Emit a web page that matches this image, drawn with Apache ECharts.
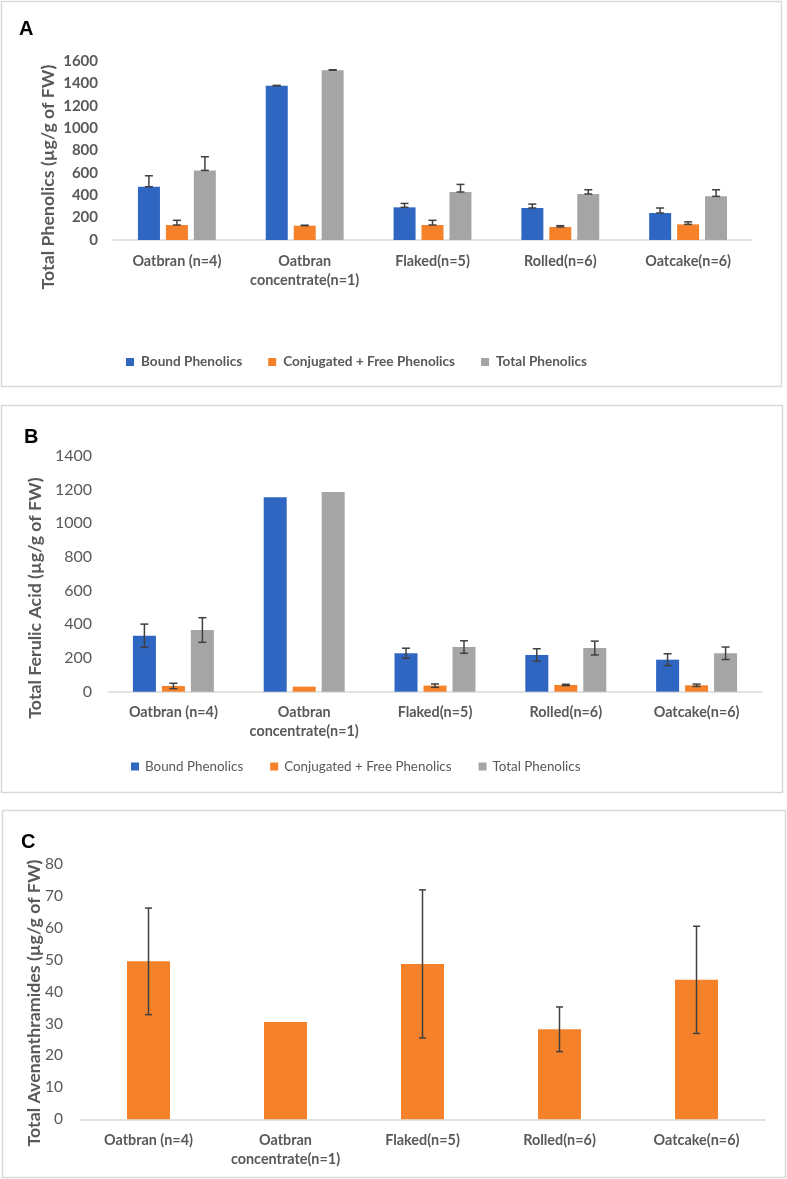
<!DOCTYPE html>
<html><head><meta charset="utf-8">
<script src="https://cdn.jsdelivr.net/npm/echarts@6/dist/echarts.min.js"></script>
<style>html,body{margin:0;padding:0;background:#fff}#c{width:787px;height:1179px}</style>
</head><body><div id="c"></div>
<script>
// ---------- data ----------
const categories = ['Oatbran (n=4)', 'Oatbran\nconcentrate(n=1)', 'Flaked(n=5)', 'Rolled(n=6)', 'Oatcake(n=6)'];
const seriesNames = ['Bound Phenolics', 'Conjugated + Free Phenolics', 'Total Phenolics'];

// Panel A: Total phenolics (µg/g of FW)
const boundA = [476, 1378, 292, 286, 241];
const boundErrA = [98, 4, 35, 35, 45];
const conjA = [134, 128, 134, 116, 140];
const conjErrA = [42, 4, 42, 12, 22];
const totalA = [622, 1518, 429, 411, 390];
const totalErrA = [122, 4, 68, 38, 59];

// Panel B: Total ferulic acid (µg/g of FW)
const boundB = [332, 1153, 228, 218, 190];
const boundErrB = [69, 0, 30, 37, 35];
const conjB = [34, 30, 36, 40, 38];
const conjErrB = [16, 0, 10, 4, 7];
const totalB = [366, 1184, 265, 259, 228];
const totalErrB = [73, 0, 37, 41, 37];

// Panel C: Total avenanthramides (µg/g of FW)
const avenC = [49.5, 30.5, 48.7, 28.2, 43.7];
const avenErrC = [16.7, 0, 23.2, 7, 16.8];

const yTicksA = {min: 0, max: 1600, interval: 200};
const yTicksB = {min: 0, max: 1400, interval: 200};
const yTicksC = {min: 0, max: 80, interval: 10};

// ---------- style ----------
const COLORS = ['#2f66c2', '#f5822a', '#a5a5a5'];
const FONT = 'Lato';
const TXT = '#595959';
const ERR = '#404040';

const chart = echarts.init(document.getElementById('c'), null, {renderer: 'canvas'});

function errSeries(values, errs, axisIdx, offset, plusOnly, capHalf, name) {
  const data = values.map((v, i) => [i, plusOnly ? v : v - errs[i], v + errs[i], errs[i]]);
  return {
    type: 'custom', name: name + ' err', xAxisIndex: axisIdx, yAxisIndex: axisIdx, z: 10,
    silent: true, tooltip: {show: false},
    renderItem: function (params, api) {
      const e = api.value(3);
      if (!e) return null;
      const lo = api.coord([api.value(0), api.value(1)]);
      const hi = api.coord([api.value(0), api.value(2)]);
      const x = lo[0] + offset;
      const st = {stroke: ERR, lineWidth: 1.5};
      return {type: 'group', children: [
        {type: 'line', shape: {x1: x, y1: lo[1], x2: x, y2: hi[1]}, style: st},
        {type: 'line', shape: {x1: x - capHalf, y1: hi[1], x2: x + capHalf, y2: hi[1]}, style: st},
        {type: 'line', shape: {x1: x - capHalf, y1: lo[1], x2: x + capHalf, y2: lo[1]}, style: st}
      ]};
    },
    data: data
  };
}

function barSeries(name, values, axisIdx, color, width, gap) {
  return {type: 'bar', name: name, xAxisIndex: axisIdx, yAxisIndex: axisIdx, data: values,
    barWidth: width, barGap: gap, itemStyle: {color: color}, emphasis: {disabled: true}};
}

const grids = [
  {left: 113, right: 35, top: 61, height: 179},
  {left: 108, right: 25, top: 455.7, height: 236},
  {left: 80, right: 22, top: 864, height: 255.3}
];

function xAx(gi, margin, lh) {
  return {type: 'category', gridIndex: gi, data: categories,
    axisLine: {lineStyle: {color: '#d9d9d9', width: 1.5}}, axisTick: {show: false},
    axisLabel: {color: TXT, fontFamily: FONT, fontSize: 14.4, fontWeight: 'bold', margin: margin, lineHeight: lh, interval: 0}};
}
function yAx(gi, t, bold, size, margin) {
  return {type: 'value', gridIndex: gi, min: t.min, max: t.max, interval: t.interval,
    splitLine: {show: false}, axisLine: {show: false}, axisTick: {show: false},
    axisLabel: {color: TXT, fontFamily: FONT, fontSize: size, fontWeight: bold ? 'bold' : 'normal', margin: margin,
      formatter: function (v) { return String(v); }}};
}

const offA = 28, offB = 29;
const series = [
  barSeries(seriesNames[0], boundA, 0, COLORS[0], 22, '27%'),
  barSeries(seriesNames[1], conjA, 0, COLORS[1], 22, '27%'),
  barSeries(seriesNames[2], totalA, 0, COLORS[2], 22, '27%'),
  errSeries(boundA, boundErrA, 0, -offA, true, 4, 'A1'),
  errSeries(conjA, conjErrA, 0, 0, true, 4, 'A2'),
  errSeries(totalA, totalErrA, 0, offA, true, 4, 'A3'),
  barSeries(seriesNames[0], boundB, 1, COLORS[0], 23, '26%'),
  barSeries(seriesNames[1], conjB, 1, COLORS[1], 23, '26%'),
  barSeries(seriesNames[2], totalB, 1, COLORS[2], 23, '26%'),
  errSeries(boundB, boundErrB, 1, -offB, false, 4, 'B1'),
  errSeries(conjB, conjErrB, 1, 0, false, 4, 'B2'),
  errSeries(totalB, totalErrB, 1, offB, false, 4, 'B3'),
  barSeries('Total Avenanthramides', avenC, 2, COLORS[1], 43, '0%'),
  errSeries(avenC, avenErrC, 2, 0, false, 3.5, 'C')
];

function boxRect(x, y, w, h) {
  return {type: 'rect', silent: true, z: -1, shape: {x: x, y: y, width: w, height: h},
    style: {fill: 'none', stroke: '#d9d9d9', lineWidth: 1.5}};
}
function letter(t, x, y) {
  return {type: 'text', x: x, y: y, style: {text: t, font: 'bold 20px "Liberation Sans", Arial, sans-serif', fill: '#000', textVerticalAlign: 'middle'}};
}
function yTitle(t, x, y) {
  return {type: 'text', x: x, y: y, rotation: Math.PI / 2,
    style: {text: t, font: 'bold 17.8px ' + FONT, fill: TXT, textAlign: 'center', textVerticalAlign: 'middle'}};
}

chart.setOption({
  animation: false,
  grid: grids,
  xAxis: [xAx(0, 12, 18.6), xAx(1, 11, 19.3), xAx(2, 12, 18.4)],
  yAxis: [yAx(0, yTicksA, true, 15, 15), yAx(1, yTicksB, false, 16, 16), yAx(2, yTicksC, false, 15.5, 17)],
  legend: [
    {left: 121, top: 350, itemWidth: 8, itemHeight: 8, itemGap: 26, icon: 'rect', data: seriesNames,
      textStyle: {color: TXT, fontFamily: FONT, fontSize: 13.6, fontWeight: 'bold', padding: [0, 0, 0, 2]}},
    {left: 126, top: 755, itemWidth: 8, itemHeight: 8, itemGap: 27, icon: 'rect', data: seriesNames,
      textStyle: {color: TXT, fontFamily: FONT, fontSize: 13.4, padding: [0, 0, 0, 1]}}
  ],
  series: series,
  graphic: [
    boxRect(1.5, 1.5, 780, 385),
    boxRect(1.5, 405.5, 781, 387),
    boxRect(2.5, 810.5, 783, 367),
    letter('A', 19, 29),
    letter('B', 24, 437),
    letter('C', 21, 842),
    yTitle('Total Phenolics (\u00b5g/g of FW)', 48, 177),
    yTitle('Total Ferulic Acid (\u00b5g/g of FW)', 35, 598),
    yTitle('Total Avenanthramides (\u00b5g/g of FW)', 34, 1003)
  ]
});
</script></body></html>
